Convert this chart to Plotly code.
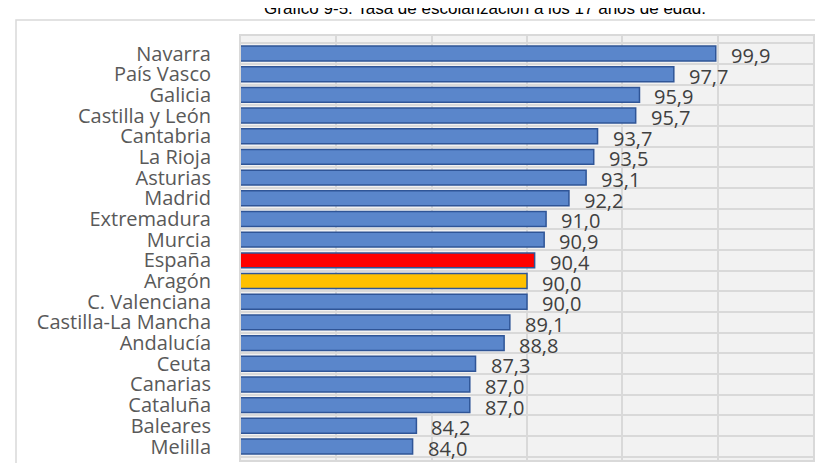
import plotly.graph_objects as go

regions = ["Navarra", "País Vasco", "Galicia", "Castilla y León", "Cantabria", "La Rioja",
           "Asturias", "Madrid", "Extremadura", "Murcia", "España", "Aragón",
           "C. Valenciana", "Castilla-La Mancha", "Andalucía", "Ceuta", "Canarias",
           "Cataluña", "Baleares", "Melilla"]
values = [99.9, 97.7, 95.9, 95.7, 93.7, 93.5, 93.1, 92.2, 91.0, 90.9, 90.4, 90.0,
          90.0, 89.1, 88.8, 87.3, 87.0, 87.0, 84.2, 84.0]
highlight = {"España": "#ff0000", "Aragón": "#ffc000"}
title_text = "Gráfico 9-5. Tasa de escolarización a los 17 años de edad."

colors = [highlight.get(r, "#5a86cb") for r in regions]

fig = go.Figure()
fig.add_trace(go.Bar(
    y=regions, x=values, orientation="h",
    marker=dict(color=colors, line=dict(color="#2f5597", width=1.5)),
    hoverinfo="skip",
))

for r, v in zip(regions, values):
    fig.add_annotation(x=v, y=r, xref="x", yref="y",
                       text=f"{v:.1f}".replace(".", ","),
                       showarrow=False, xanchor="left", yanchor="middle",
                       xshift=13, yshift=-2,
                       font=dict(family="Open Sans", size=20, color="#404040"))

W, H = 823, 463
L, R, T, B = 233, 18, 28, 11
pw, ph = W - L - R, H - T - B

# title
fig.add_annotation(x=(477 - L) / pw, y=1 + (T - 12) / ph, xref="paper", yref="paper",
                   text=title_text, showarrow=False, xanchor="center", yanchor="bottom",
                   font=dict(family="Liberation Sans", size=17, color="#000000"))

# outer frame
fig.add_shape(type="path", xref="paper", yref="paper",
              path=f"M {(8 - L) / pw},{-0.2} L {(8 - L) / pw},{1 + (T - 12) / ph} L {(W + 5 - L) / pw},{1 + (T - 12) / ph}",
              line=dict(color="#d9d9d9", width=1.5), layer="below")

fig.update_layout(
    width=W, height=H,
    margin=dict(l=L, r=R, t=T, b=B, pad=0, autoexpand=False),
    paper_bgcolor="#ffffff", plot_bgcolor="#f2f2f2",
    bargap=0.28, showlegend=False,
    separators=",.",
    xaxis=dict(range=[75, 105], dtick=5, tick0=75, showticklabels=False,
               showgrid=True, gridcolor="#d9d9d9", gridwidth=2,
               zeroline=False, showline=True, linecolor="#d9d9d9", linewidth=2, mirror=True),
    yaxis=dict(type="category", autorange="reversed", tickson="boundaries",
               tickmode="array", tickvals=regions, ticktext=regions,
               showgrid=True, gridcolor="#d9d9d9", gridwidth=2,
               ticks="", ticklabelstandoff=24,
               tickfont=dict(family="Open Sans", size=20, color="#595959"),
               showline=True, linecolor="#d9d9d9", linewidth=2, mirror=True),
)

fig.write_html("out.html")
